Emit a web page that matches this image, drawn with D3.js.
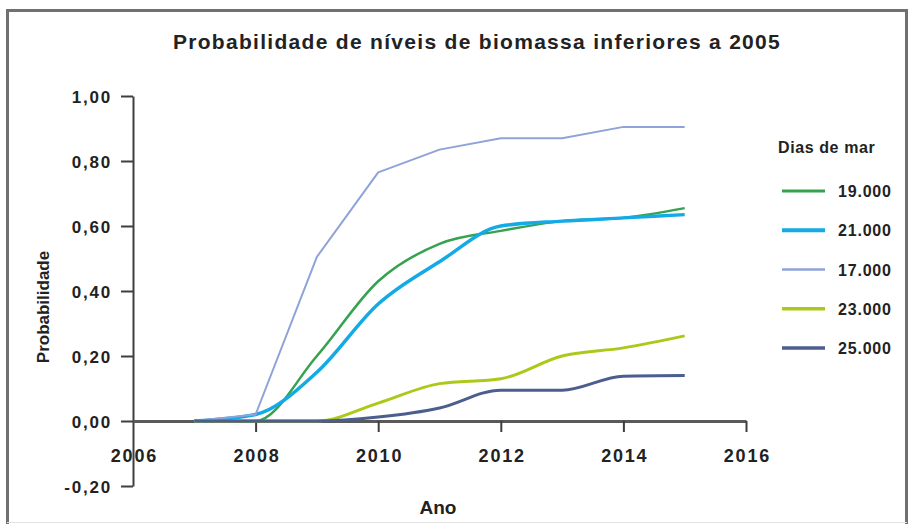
<!DOCTYPE html>
<html>
<head>
<meta charset="utf-8">
<script src="https://cdn.jsdelivr.net/npm/d3@7/dist/d3.min.js"></script>
<style>
  html, body { margin: 0; padding: 0; background: #ffffff; }
  svg { display: block; }
  text { font-family: "Liberation Sans", Arial, Helvetica, sans-serif; font-weight: bold; fill: #222; }
</style>
</head>
<body>
<script>
// Anos de simulação
const years = [2007, 2008, 2009, 2010, 2011, 2012, 2013, 2014, 2015];

// Probabilidade por cenário de dias de mar
const s19000 = [0, 0, 0.20, 0.43, 0.545, 0.585, 0.615, 0.625, 0.655];
const s21000 = [0, 0.02, 0.15, 0.36, 0.49, 0.60, 0.615, 0.625, 0.635];
const s17000 = [0, 0.02, 0.505, 0.765, 0.835, 0.87, 0.87, 0.905, 0.905];
const s23000 = [0, 0, 0, 0.055, 0.115, 0.13, 0.20, 0.225, 0.262];
const s25000 = [0, 0, 0, 0.012, 0.04, 0.095, 0.095, 0.138, 0.14];

const seriesNames = ["19.000", "21.000", "17.000", "23.000", "25.000"];
const seriesValues = [s19000, s21000, s17000, s23000, s25000];
const seriesColors = ["#34a24f", "#14aae6", "#8fa3d8", "#acc91a", "#4b5e8e"];
const seriesWidths = [2.5, 3.5, 2, 3, 3];
const seriesSmooth = [true, true, false, true, true];

const xTicks = [2006, 2008, 2010, 2012, 2014, 2016];
const yTicks = [-0.2, 0, 0.2, 0.4, 0.6, 0.8, 1.0];

const W = 913, H = 524;
const svg = d3.select("body").append("svg").attr("width", W).attr("height", H);

// moldura
svg.append("rect").attr("x", 0).attr("y", 0).attr("width", W).attr("height", H).attr("fill", "#fff");
svg.append("path")
  .attr("d", "M7.5,524 V10.5 H906.5 V524")
  .attr("fill", "none").attr("stroke", "#707070").attr("stroke-width", 3);
svg.append("line").attr("x1", 7).attr("x2", 907).attr("y1", 522.5).attr("y2", 522.5)
  .attr("stroke", "#e2e2e2").attr("stroke-width", 1);

const x = d3.scaleLinear().domain([2006, 2016]).range([133, 746]);
const y = d3.scaleLinear().domain([-0.2, 1]).range([486, 96]);

// título
svg.append("text")
  .attr("x", 477).attr("y", 49)
  .attr("text-anchor", "middle")
  .style("font-size", "21px").style("letter-spacing", "1.3px")
  .text("Probabilidade de níveis de biomassa inferiores a 2005");

// eixo Y
const yAxis = svg.append("g")
  .attr("transform", `translate(${x(2006)},0)`)
  .call(d3.axisLeft(y).tickValues(yTicks).tickSize(12).tickSizeOuter(0)
    .tickFormat(d => d.toFixed(2).replace(".", ",")));
yAxis.select(".domain").attr("stroke", "#3e3e3e").attr("stroke-width", 2);
yAxis.selectAll(".tick line").attr("stroke", "#3e3e3e").attr("stroke-width", 2);
yAxis.selectAll(".tick text")
  .attr("x", -21).attr("dy", "0.36em")
  .style("font-size", "17px").style("letter-spacing", "1.8px")
  .attr("fill", "#222");

// eixo X na linha do zero
const xAxis = svg.append("g")
  .attr("transform", `translate(0,${y(0)})`)
  .call(d3.axisBottom(x).tickValues(xTicks).tickSize(11).tickSizeOuter(0)
    .tickFormat(d3.format("d")));
xAxis.select(".domain").attr("stroke", "#5a5a5a").attr("stroke-width", 3);
xAxis.selectAll(".tick line").attr("stroke", "#3e3e3e").attr("stroke-width", 2)
  .filter(d => d === 2006).remove();
xAxis.selectAll(".tick text")
  .attr("y", 41).attr("dy", 0).attr("dx", "0.9px")
  .style("font-size", "18px").style("letter-spacing", "1.8px")
  .attr("fill", "#222");

// títulos dos eixos
svg.append("text")
  .attr("x", 438).attr("y", 514)
  .attr("text-anchor", "middle")
  .style("font-size", "19px")
  .text("Ano");
svg.append("text")
  .attr("transform", "translate(49,307) rotate(-90)")
  .attr("text-anchor", "middle")
  .style("font-size", "17px")
  .text("Probabilidade");

// linhas
seriesValues.forEach((vals, i) => {
  const line = d3.line()
    .x((d, j) => x(years[j]))
    .y(d => y(d))
    .curve(seriesSmooth[i] ? d3.curveMonotoneX : d3.curveLinear);
  svg.append("path")
    .datum(vals)
    .attr("d", line)
    .attr("fill", "none")
    .attr("stroke", seriesColors[i])
    .attr("stroke-width", seriesWidths[i])
    .attr("stroke-linejoin", "round");
});

// legenda
const legend = svg.append("g");
legend.append("text")
  .attr("x", 778).attr("y", 153)
  .style("font-size", "16px").style("letter-spacing", "0.6px")
  .text("Dias de mar");
const legendY = d3.scalePoint().domain(seriesNames).range([191, 348]);
seriesNames.forEach((name, i) => {
  const ly = legendY(name);
  legend.append("line")
    .attr("x1", 782).attr("x2", 825).attr("y1", ly).attr("y2", ly)
    .attr("stroke", seriesColors[i])
    .attr("stroke-width", seriesWidths[i] + 0.5);
  legend.append("text")
    .attr("x", 838).attr("y", ly + 6)
    .style("font-size", "16px").style("letter-spacing", "0.8px")
    .text(name);
});
</script>
</body>
</html>
